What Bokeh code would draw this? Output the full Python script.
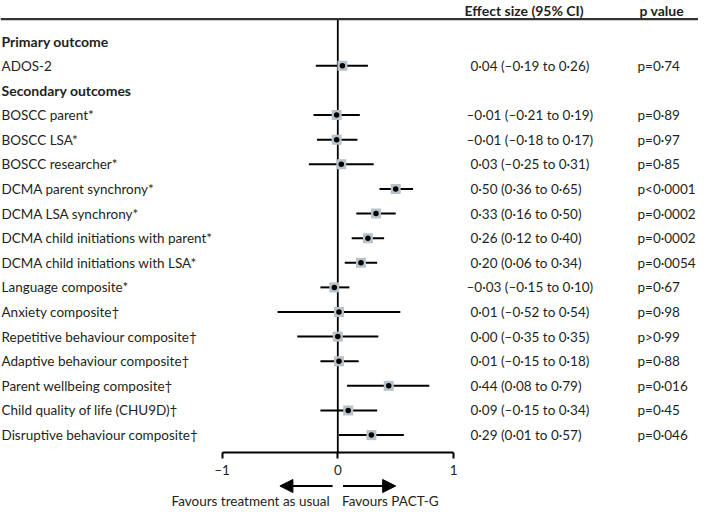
from bokeh.plotting import figure
from bokeh.models import Range1d, LinearAxis, FixedTicker, Span, Arrow, NormalHead, ColumnDataSource
from bokeh.core.properties import value
from bokeh.embed import file_html
from bokeh.resources import INLINE

# ---------------- data ----------------
labels = ["ADOS-2", "BOSCC parent*", "BOSCC LSA*", "BOSCC researcher*",
          "DCMA parent synchrony*", "DCMA LSA synchrony*",
          "DCMA child initiations with parent*", "DCMA child initiations with LSA*",
          "Language composite*", "Anxiety composite\u2020", "Repetitive behaviour composite\u2020",
          "Adaptive behaviour composite\u2020", "Parent wellbeing composite\u2020",
          "Child quality of life (CHU9D)\u2020", "Disruptive behaviour composite\u2020"]
rows = [0, 2, 3, 4, 5, 6, 7, 8, 9, 10, 11, 12, 13, 14, 15]
effect = [0.04, -0.01, -0.01, 0.03, 0.50, 0.33, 0.26, 0.20, -0.03, 0.01, 0.00, 0.01, 0.44, 0.09, 0.29]
ci_low = [-0.19, -0.21, -0.18, -0.25, 0.36, 0.16, 0.12, 0.06, -0.15, -0.52, -0.35, -0.15, 0.08, -0.15, 0.01]
ci_high = [0.26, 0.19, 0.17, 0.31, 0.65, 0.50, 0.40, 0.34, 0.10, 0.54, 0.35, 0.18, 0.79, 0.34, 0.57]
effect_text = ["0\u00b704 (\u20130\u00b719 to 0\u00b726)", "\u20130\u00b701 (\u20130\u00b721 to 0\u00b719)",
               "\u20130\u00b701 (\u20130\u00b718 to 0\u00b717)", "0\u00b703 (\u20130\u00b725 to 0\u00b731)",
               "0\u00b750 (0\u00b736 to 0\u00b765)", "0\u00b733 (0\u00b716 to 0\u00b750)",
               "0\u00b726 (0\u00b712 to 0\u00b740)", "0\u00b720 (0\u00b706 to 0\u00b734)",
               "\u20130\u00b703 (\u20130\u00b715 to 0\u00b710)", "0\u00b701 (\u20130\u00b752 to 0\u00b754)",
               "0\u00b700 (\u20130\u00b735 to 0\u00b735)", "0\u00b701 (\u20130\u00b715 to 0\u00b718)",
               "0\u00b744 (0\u00b708 to 0\u00b779)", "0\u00b709 (\u20130\u00b715 to 0\u00b734)",
               "0\u00b729 (0\u00b701 to 0\u00b757)"]
p_text = ["p=0\u00b774", "p=0\u00b789", "p=0\u00b797", "p=0\u00b785", "p<0\u00b70001", "p=0\u00b70002",
          "p=0\u00b70002", "p=0\u00b70054", "p=0\u00b767", "p=0\u00b798", "p>0\u00b799", "p=0\u00b788",
          "p=0\u00b7016", "p=0\u00b745", "p=0\u00b7046"]
section_labels = ["Primary outcome", "Secondary outcomes"]
section_rows = [-1, 1]
col_headers = ["Effect size (95% CI)", "p value"]
x_ticks = [-1, 0, 1]
favours = ["Favours treatment as usual", "Favours PACT-G"]

# ---------------- layout helpers ----------------
W, H = 698, 508
X0_PX, UNIT = 337.3, 115.8           # canvas px of x=0, px per unit
R0_PX, ROW = 65.3, 24.62             # canvas px of row 0, px per row

def xd(px):
    return (px - X0_PX) / UNIT

def rd(px):
    return (px - R0_PX) / ROW

FONT = "Lato"
TXT = "#231f20"
FS = "13.5px"
FSB = "14px"

p = figure(width=W, height=H, output_backend="svg", toolbar_location=None,
           x_range=Range1d(xd(0), xd(W)), y_range=Range1d(rd(H), rd(0)),
           x_axis_type=None, y_axis_type=None, min_border=0)
p.outline_line_color = None
p.grid.visible = False
p.background_fill_color = "white"

# header rule
p.add_layout(Span(location=rd(18.6), dimension="width", line_color="#333333", line_width=2.2))

AXIS_ROW = rd(452.2)
# zero line
p.segment(x0=[0], y0=[rd(18.6)], x1=[0], y1=[AXIS_ROW], line_color="black", line_width=1.8)

# CI lines and markers
src = ColumnDataSource(dict(row=rows, est=effect, lo=ci_low, hi=ci_high, lab=labels,
                            etxt=effect_text, ptxt=p_text,
                            eoff=[-4 if t.startswith("\u2013") else 0 for t in effect_text]))
p.segment(x0="lo", y0="row", x1="hi", y1="row", source=src, line_color="black", line_width=2)
p.scatter(x="est", y="row", source=src, marker="square", size=10, fill_color="#b7c2cb",
          line_color=None)
p.scatter(x="est", y="row", source=src, marker="circle", size=5.5, fill_color="black",
          line_color=None)

# text columns
p.text(x=xd(1), y="row", text="lab", source=src, text_font=value(FONT), text_font_size=FS,
       text_baseline="middle", text_align="left", text_color=TXT)
p.text(x=xd(470), y="row", text="etxt", x_offset="eoff", source=src, text_font=value(FONT),
       text_font_size=FS, text_baseline="middle", text_align="left", text_color=TXT)
p.text(x=xd(637), y="row", text="ptxt", source=src, text_font=value(FONT), text_font_size=FS,
       text_baseline="middle", text_align="left", text_color=TXT)
p.text(x=[xd(1)] * 2, y=section_rows, text=section_labels, text_font=value(FONT),
       text_font_size=FSB, text_font_style="bold", text_baseline="middle", text_color=TXT)
p.text(x=[xd(464), xd(639)], y=[rd(9.5)] * 2, text=col_headers, text_font=value(FONT),
       text_font_size=FSB, text_font_style="bold", text_baseline="middle", text_color=TXT)

# bottom axis at fixed location
ax = LinearAxis(fixed_location=AXIS_ROW, bounds=(-1, 1), ticker=FixedTicker(ticks=x_ticks),
                major_label_overrides={-1: "\u20131", 0: "0", 1: "1"},
                major_tick_out=6, major_tick_in=0, minor_tick_out=0, minor_tick_in=0,
                axis_line_width=2, major_tick_line_width=2, axis_line_color="black",
                major_tick_line_color="black", major_label_text_font=FONT,
                major_label_text_font_size=FS, major_label_text_color=TXT,
                major_label_standoff=3)
p.add_layout(ax, "below")

# favours arrows
ARROW_ROW = rd(485.5)
for x_start, x_end in [(-0.045, -0.50), (0.045, 0.50)]:
    p.add_layout(Arrow(x_start=x_start, y_start=ARROW_ROW, x_end=x_end, y_end=ARROW_ROW,
                       line_width=2, line_color="black",
                       end=NormalHead(size=13, fill_color="black", line_color="black")))
p.text(x=[-0.07, 0.036], y=[rd(500)] * 2, text=favours, text_align=["right", "left"],
       text_font=value(FONT), text_font_size=FS, text_baseline="middle", text_color=TXT)

open("out.html", "w").write(file_html(p, INLINE))
